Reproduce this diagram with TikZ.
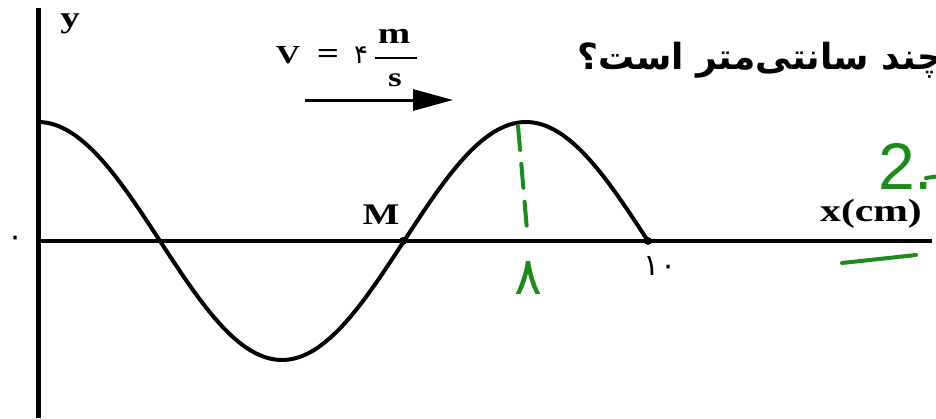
\documentclass[tikz,border=0pt]{standalone}
\usepackage{fontspec}
\setmainfont{Liberation Serif}
\newfontfamily\widefont[FakeStretch=1.3]{Liberation Serif}
\newfontfamily\farsifont[Script=Arabic]{DejaVu Sans}
\newfontfamily\handfont{Liberation Sans}
\usepackage{tikz}
\usetikzlibrary{arrows.meta}
\TeXXeTstate=1
\definecolor{PenGreen}{HTML}{1E8A1E}
\tikzset{
  axis/.style={line width=3.5pt,draw=black},
  yaxis/.style={axis,line width=5pt},
  wave/.style={line width=4pt,line join=round,draw=black},
  lbl/.style={font=\widefont\fontsize{30}{32}\selectfont\bfseries,inner sep=0pt},
  digit/.style={font=\farsifont\fontsize{30}{32}\selectfont,inner sep=0pt},
  dotc/.style={circle,fill=black,inner sep=0pt,minimum size=8pt},
  flow/.style={-{Triangle[length=40pt,width=21pt]},line width=3pt},
  pen/.style={draw=PenGreen,line width=4pt,line cap=round},
  penlbl/.style={text=PenGreen,inner sep=0pt}
}

\begin{document}
\begin{tikzpicture}[x=1pt,y=-1pt]
  \useasboundingbox (0,0) rectangle (936,418);
  \clip (0,0) rectangle (936,418);
  % axes
  \coordinate (ytop) at (38,8);
  \coordinate (ybot) at (38,418);
  \coordinate (org) at (38,241);
  \coordinate (xend) at (932,241);
  \draw[yaxis] (ytop)--(ybot);
  \draw[axis] (org)--(xend);
  \node[lbl] (ylab) at (70,24) {y};
  \node[lbl,font=\widefont\fontsize{32}{34}\selectfont\bfseries] (xlab) at (871,214) {x(cm)};
  \node[digit] (zero) at (16,241) {\beginR ۰\endR};
  % the wave
  \draw[wave] plot[domain=38:648,samples=150] (\x,{241-119*cos(0.7377*(\x-38))});
  \node[dotc] (mpt) at (403,241) {};
  \node[dotc] (tenpt) at (648,241) {};
  \node[lbl] (mlab) at (381,215) {M};
  \node[digit] (tenlab) at (660,266) {\beginR ۱۰\endR};
  % speed
  \node[lbl,font=\widefont\fontsize{26}{28}\selectfont\bfseries] (vlab) at (288,55) {V};
  \node[lbl] (eqlab) at (328,56) {=};
  \node[digit,font=\farsifont\fontsize{26}{28}\selectfont] (four) at (361,55) {\beginR ۴\endR};
  \node[lbl] (num) at (394,36) {m};
  \node[lbl,font=\widefont\fontsize{27}{29}\selectfont\bfseries] (den) at (395,80) {s};
  \coordinate (barl) at (375,58);
  \coordinate (barr) at (417,58);
  \draw[line width=2.5pt] (barl)--(barr);
  \coordinate (vs) at (305,100);
  \coordinate (ve) at (453,100);
  \draw[flow] (vs)--(ve);
  % question (cut at the edge)
  \node[anchor=west,inner sep=0pt,font=\farsifont\bfseries\fontsize{36}{38}\selectfont] (quest) at (577,60)
    {\beginR چند سانتی‌متر است؟\endR};
  % green pen marks
  \coordinate (peak) at (518,126);
  \coordinate (foot) at (527,230);
  \draw[pen,dash pattern=on 24pt off 14pt] (peak)--(foot);
  \node[penlbl,font=\farsifont\fontsize{52}{54}\selectfont] (eight) at (528,278) {\beginR ۸\endR};
  \node[penlbl,font=\handfont\fontsize{66}{68}\selectfont,anchor=west] (two) at (878,166) {2.};
  \coordinate (dashl) at (926,178);
  \coordinate (dashr) at (940,176);
  \draw[pen] (dashl)--(dashr);
  \coordinate (ulinel) at (842,263);
  \coordinate (uliner) at (916,255);
  \draw[pen] (ulinel)--(uliner);
\end{tikzpicture}
\end{document}
